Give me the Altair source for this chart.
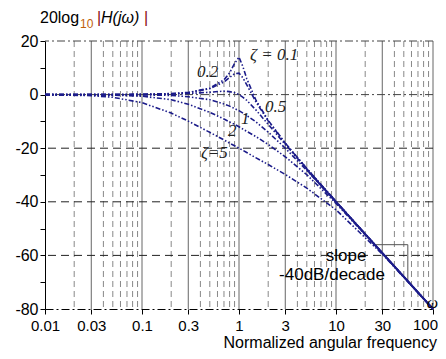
import altair as alt
import pandas as pd

# Normalized angular frequency samples
w_vals = [0.01, 0.03, 0.05, 0.1, 0.2, 0.3, 0.5, 0.7, 0.8, 0.9, 1.0, 1.1, 1.2, 1.5, 2, 3, 5, 10, 30, 100]
# magnitude in dB read for each damping ratio
db_z01 = [0.0, 0.0, 0.0, 0.1, 0.4, 0.8, 2.4, 5.5, 8.1, 11.6, 14.0, 10.3, 6.0, -2.2, -9.6, -18.1, -27.6, -39.9, -59.1, -80.0]
db_z02 = [0.0, 0.0, 0.0, 0.1, 0.3, 0.7, 2.2, 4.7, 6.4, 7.8, 8.0, 6.2, 3.7, -2.8, -9.8, -18.2, -27.6, -39.9, -59.1, -80.0]
db_z05 = [0.0, 0.0, 0.0, 0.0, 0.2, 0.4, 0.9, 1.3, 1.1, 0.7, 0.0, -1.0, -2.1, -5.8, -11.1, -18.6, -27.8, -40.0, -59.1, -80.0]
db_z1 = [0.0, 0.0, 0.0, -0.1, -0.3, -0.8, -1.9, -3.5, -4.3, -5.2, -6.0, -6.9, -7.8, -10.2, -14.0, -20.0, -28.3, -40.1, -59.1, -80.0]
db_z2 = [0.0, -0.1, -0.2, -0.6, -1.9, -3.6, -6.6, -9.1, -10.2, -11.1, -12.0, -12.9, -13.7, -15.7, -18.6, -23.2, -29.9, -40.6, -59.2, -80.0]
db_z5 = [0.0, -0.4, -1.0, -3.0, -6.9, -9.9, -14.1, -16.9, -18.1, -19.1, -20.0, -20.8, -21.6, -23.6, -26.1, -29.8, -34.9, -43.0, -59.5, -80.0]
zetas = ["0.1", "0.2", "0.5", "1", "2", "5"]

asym_w = [5, 100]
asym_db = [-28.0, -80.0]

ann_text = ["ζ = 0.1", "0.2", "0.5", "1", "2", "ζ=5"]
ann_w = [1.30, 0.37, 1.85, 1.05, 0.77, 0.405]
ann_db = [14.8, 8.4, -4.6, -9.1, -13.6, -21.8]

slope_text = ["slope", "-40dB/decade"]
slope_text_w = [12.7, 9.1]
slope_text_db = [-60.2, -67.3]
tri_w = [25, 55, 55]
tri_db = [-56.0, -56.0, -69.6]

x_ticks = [0.01, 0.03, 0.1, 0.3, 1, 3, 10, 30, 100]
y_ticks = [-80, -70, -60, -50, -40, -30, -20, -10, 0, 10, 20]
grid_solid = [0.03, 0.1, 0.3, 1, 3, 10, 30, 100]
grid_dashed = [m * d for d in [0.01, 0.1, 1, 10] for m in [2, 4, 5, 6, 7, 8, 9]]
grid_h_dashed = [-20, -40, -60]
grid_h_dashdot = [0, 20]

NAVY = "#1c1c8a"
SANS = "Liberation Sans"
SERIF = "Liberation Serif"

curve_rows = []
for z, arr in zip(zetas, [db_z01, db_z02, db_z05, db_z1, db_z2, db_z5]):
    for i, (w, d) in enumerate(zip(w_vals, arr)):
        curve_rows.append({"zeta": z, "w": w, "db": d, "i": i})
curves_df = pd.DataFrame(curve_rows)

xscale = alt.Scale(type="log", domain=[0.01, 100], nice=False)
yscale = alt.Scale(domain=[-80, 20], nice=False, zero=False)

# last label (100) drawn separately so that it stays inside the picture
x_axis = alt.Axis(values=x_ticks, labelExpr="datum.value >= 100 ? '' : '' + datum.value", labelFlush=False,
                  labelOverlap=False, grid=False, tickSize=5, labelPadding=4,
                  labelFont=SANS, labelFontSize=15, labelColor="black",
                  domainColor="black", domainDash=[8, 3, 2, 3], tickColor="black", title=None)
y_axis = alt.Axis(values=y_ticks, labelExpr="datum.value % 20 == 0 ? '' + datum.value : ''",
                  grid=False, tickSize=5, labelPadding=2, labelFont=SANS, labelFontSize=16,
                  labelColor="black", domainColor="black", tickColor="black", title=None)

def X():
    return alt.X("w:Q", scale=xscale, axis=x_axis)

def Y():
    return alt.Y("db:Q", scale=yscale, axis=y_axis)

gs = alt.Chart(pd.DataFrame({"w": grid_solid})).mark_rule(color="#666", strokeWidth=1).encode(x=X())
gd = alt.Chart(pd.DataFrame({"w": grid_dashed})).mark_rule(color="#888", strokeWidth=1, strokeDash=[6, 4]).encode(x=X())
hd = alt.Chart(pd.DataFrame({"db": grid_h_dashed})).mark_rule(color="#222", strokeWidth=1, strokeDash=[8, 5]).encode(y=Y())
hdd = alt.Chart(pd.DataFrame({"db": grid_h_dashdot})).mark_rule(color="#444", strokeWidth=1, strokeDash=[8, 3, 2, 3]).encode(y=Y())

tri = alt.Chart(pd.DataFrame({"w": tri_w, "db": tri_db, "i": [0, 1, 2]})).mark_line(
    color="#555", strokeWidth=1).encode(x=X(), y=Y(), order="i:Q")

curves = alt.Chart(curves_df).mark_line(color=NAVY, strokeWidth=1.6, strokeDash=[5, 2, 1.5, 2, 1.5, 2]).encode(
    x=X(), y=Y(), detail="zeta:N", order="i:Q")

asym = alt.Chart(pd.DataFrame({"w": asym_w, "db": asym_db})).mark_line(color=NAVY, strokeWidth=2).encode(
    x=X(), y=Y())

ann = alt.Chart(pd.DataFrame({"t": ann_text, "w": ann_w, "db": ann_db})).mark_text(
    font=SERIF, fontStyle="italic", fontSize=17, align="left", baseline="middle", color="#222").encode(
    x=X(), y=Y(), text="t:N")

stext = alt.Chart(pd.DataFrame({"t": slope_text, "w": slope_text_w, "db": slope_text_db})).mark_text(
    font=SANS, fontSize=17, align="center", baseline="middle", color="black").encode(
    x=X(), y=Y(), text="t:N")

def ptext(s, x, y, **kw):
    return alt.Chart(pd.DataFrame({"t": [s]})).mark_text(**kw).encode(
        x=alt.value(x), y=alt.value(y), text="t:N")

yt1 = ptext("20log", -5, -18, font=SANS, fontSize=16, align="left", baseline="alphabetic", color="black")
yt2 = ptext("10", 35, -13, font=SANS, fontSize=12, align="left", baseline="alphabetic", color="#c0600a")
yt3 = ptext("|", 52, -18, font=SANS, fontSize=16, align="left", baseline="alphabetic", color="#8a1010")
yt4 = ptext("H(jω)", 56, -18, font=SANS, fontSize=16, fontStyle="italic", align="left", baseline="alphabetic", color="black")
yt5 = ptext("|", 99, -18, font=SANS, fontSize=16, align="left", baseline="alphabetic", color="#8a1010")
xt = ptext("Normalized angular frequency", 392, 307, font=SANS, fontSize=16, align="right", baseline="alphabetic", color="black")
om = ptext("ω", 393, 262, font=SERIF, fontSize=16, fontStyle="italic", align="right", baseline="middle", color="black")
l100 = ptext("100", 393, 277, font=SANS, fontSize=15, align="right", baseline="top", color="black")

chart = alt.layer(gs, gd, hd, hdd, tri, curves, asym, ann, stext, yt1, yt2, yt3, yt4, yt5, xt, om, l100).properties(
    width=388, height=268,
    padding={"left": 37, "top": 33, "right": 5, "bottom": 42},
    autosize=alt.AutoSizeParams(type="none"),
).configure_view(stroke=None)

chart.save("out.html", embed_options={"renderer": "svg", "actions": False})
